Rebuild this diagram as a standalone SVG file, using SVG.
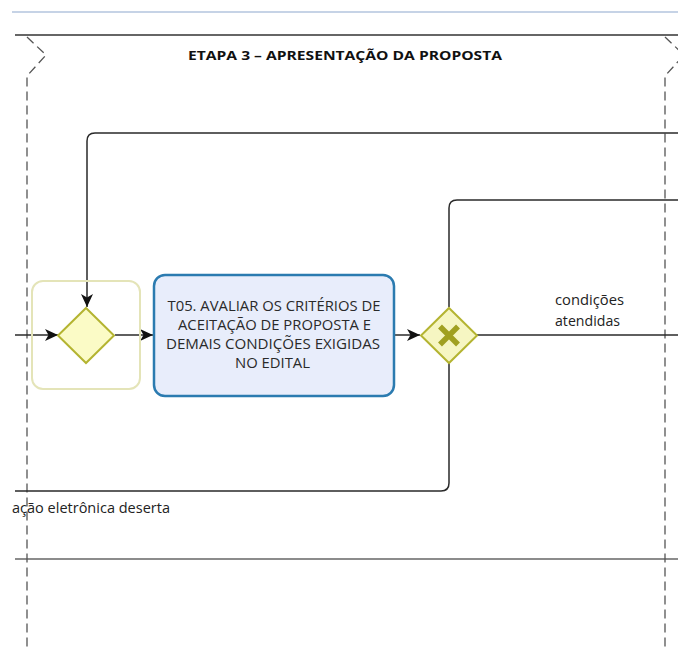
<svg xmlns="http://www.w3.org/2000/svg" width="678" height="650" viewBox="0 0 678 650">
<defs>
<marker id="arr" viewBox="0 0 13 12" refX="13" refY="6" markerWidth="13" markerHeight="12" markerUnits="userSpaceOnUse" orient="auto">
<path d="M0,0 L13,6 L0,12 L3.5,6 Z" fill="#111"/>
</marker>
<style>
.flow{fill:none;stroke:#2a2a2a;stroke-width:1.5}
.lbl{font-family:"Open Sans","Liberation Sans",sans-serif;font-size:14px;fill:#222}
.task{font-family:"Open Sans","Liberation Sans",sans-serif;font-size:14px;fill:#2a2a2a;text-anchor:middle}
.phase{fill:none;stroke:#555;stroke-width:1.3;stroke-dasharray:9,5}
</style>
</defs>
<rect width="678" height="650" fill="#fff"/>
<line x1="12" y1="12" x2="678" y2="12" stroke="#c6d3e6" stroke-width="2"/>
<g id="pool">
<line x1="15" y1="35" x2="678" y2="35" stroke="#666" stroke-width="2.2"/>
<line x1="15" y1="559" x2="678" y2="559" stroke="#666" stroke-width="1.6"/>
</g>
<g id="phase">
<path class="phase" d="M27,37 L46,55 L27,76 L27,650"/>
<path class="phase" d="M665,37 L684,55 L665,76 L665,650"/>
<text x="345" y="60" text-anchor="middle" font-family="Open Sans,Liberation Sans,sans-serif" font-weight="bold" font-size="12.5" fill="#111" textLength="314" lengthAdjust="spacingAndGlyphs">ETAPA 3 – APRESENTAÇÃO DA PROPOSTA</text>
</g>
<g id="connectors">
<path class="flow" d="M678,133 L95,133 Q87,133 87,141 L87,307" marker-end="url(#arr)"/>
<path class="flow" d="M678,200 L457,200 Q449,200 449,208 L449,307"/>
<path class="flow" d="M15,335 L58,335" marker-end="url(#arr)"/>
<path class="flow" d="M115,335 L153,335" marker-end="url(#arr)"/>
<path class="flow" d="M395,335 L420,335" marker-end="url(#arr)"/>
<path class="flow" d="M477,335 L678,335"/>
<path class="flow" d="M449,363 L449,483 Q449,491 441,491 L15,491"/>
<text class="lbl" x="555" y="305" textLength="69" lengthAdjust="spacingAndGlyphs">condições</text>
<text class="lbl" x="555" y="326" textLength="65" lengthAdjust="spacingAndGlyphs">atendidas</text>
<text class="lbl" x="12" y="513" textLength="158" lengthAdjust="spacingAndGlyphs">ação eletrônica deserta</text>
</g>
<g id="group-highlight">
<rect x="32" y="281" width="108" height="108" rx="11" fill="none" stroke="#e4e4b8" stroke-width="2"/>
</g>
<g id="gateway1">
<path d="M86,308 L114,335.5 L86,363 L58,335.5 Z" fill="#fbfbc6" stroke="#b4b431" stroke-width="2"/>
</g>
<g id="task-t05">
<rect x="154" y="275" width="240" height="121" rx="11" fill="#e8edfb" stroke="#2b7bb0" stroke-width="2.5"/>
<text class="task" x="274" y="311" textLength="213" lengthAdjust="spacingAndGlyphs">T05. AVALIAR OS CRITÉRIOS DE</text>
<text class="task" x="274.5" y="330" textLength="193" lengthAdjust="spacingAndGlyphs">ACEITAÇÃO DE PROPOSTA E</text>
<text class="task" x="273" y="349" textLength="214" lengthAdjust="spacingAndGlyphs">DEMAIS CONDIÇÕES EXIGIDAS</text>
<text class="task" x="272.5" y="368" textLength="75" lengthAdjust="spacingAndGlyphs">NO EDITAL</text>
</g>
<g id="gateway-xor">
<path d="M449,308 L477,335.5 L449,363 L421,335.5 Z" fill="#f6f6c2" stroke="#b4b431" stroke-width="2"/>
<path d="M440,326.5 L458,344.5 M458,326.5 L440,344.5" stroke="#a0a020" stroke-width="5.5" stroke-linecap="butt"/>
</g>
</svg>
